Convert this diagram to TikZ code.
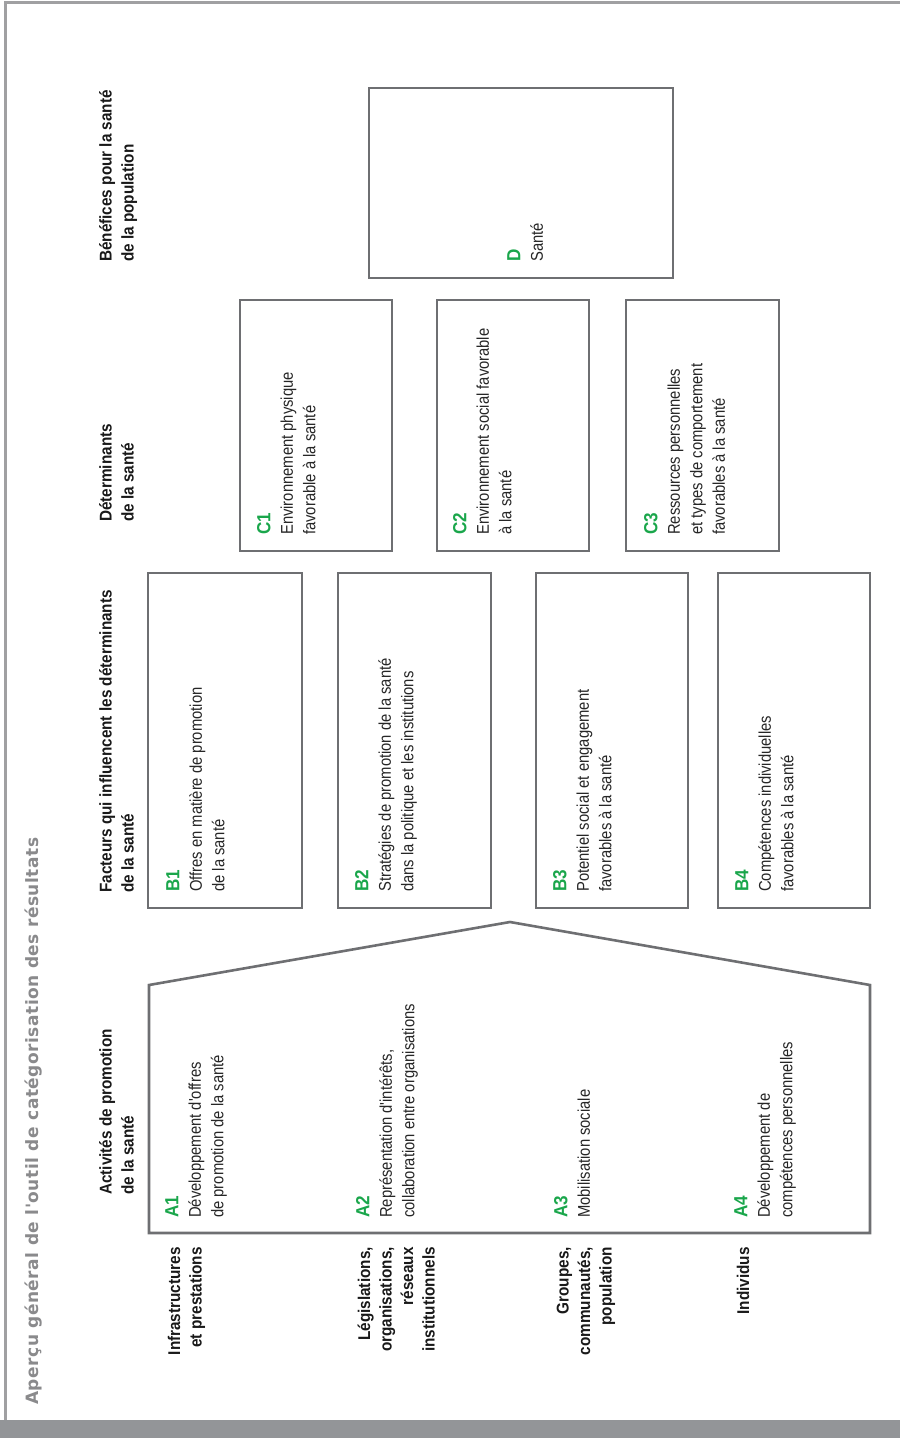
\documentclass[tikz,border=0pt]{standalone}
\usepackage{fontspec}
\setmainfont{Liberation Sans}
\newfontfamily\condf{Liberation Sans}[FakeStretch=0.87]
\newfontfamily\hdrf{Liberation Sans}[FakeStretch=0.9]
\newfontfamily\titlef{DejaVu Sans}[LetterSpace=3]
\definecolor{boxgray}{RGB}{110,111,114}
\definecolor{framegray}{RGB}{160,160,162}
\definecolor{bandgray}{RGB}{147,149,152}
\definecolor{titlegray}{RGB}{138,138,140}
\definecolor{taggreen}{RGB}{26,166,75}
\newcommand\tg[1]{{\color{taggreen}\hdrf\bfseries\fontsize{19}{19}\selectfont #1}}
\tikzset{
  box/.style={draw=boxgray, line width=2.6pt},
  desc/.style={rotate=90, anchor=north west, inner sep=0pt, align=left, text=black!85,
    font=\condf\fontsize{17}{22.5}\selectfont},
  hdr/.style={rotate=90, anchor=north west, inner sep=0pt, align=left, text=black!90,
    font=\hdrf\bfseries\fontsize{17}{22}\selectfont},
  rowl/.style={rotate=90, anchor=north east, inner sep=0pt, align=right, text=black!90,
    font=\hdrf\bfseries\fontsize{17}{21.5}\selectfont},
}
\begin{document}
\begin{tikzpicture}[x=1pt,y=-1pt]
\useasboundingbox (0,0) rectangle (900,1438);
% frame
\fill[bandgray] (0,1420) rectangle (900,1438);
\draw[framegray, line width=2.5pt] (5.5,1420) -- (5.5,2.5) -- (900,2.5);
% title
\node[rotate=90, anchor=base west, inner sep=0pt, text=titlegray,
  font=\titlef\bfseries\fontsize{17}{17}\selectfont] (title) at (38,1405)
  {Aperçu général de l'outil de catégorisation des résultats};
% column headers
\node[hdr] (hA) at (99,1195) {Activités de promotion\\de la santé};
\node[hdr] (hB) at (99,893) {Facteurs qui influencent les déterminants\\de la santé};
\node[hdr] (hC) at (99,522) {Déterminants\\de la santé};
\node[hdr] (hD) at (99,262) {Bénéfices pour la santé\\de la population};
% row labels
\node[rowl] (r1) at (167.5,1247) {Infrastructures\\et prestations};
\node[rowl] (r2) at (357.5,1247) {Législations,\\organisations,\\réseaux\\institutionnels};
\node[rowl] (r3) at (556.5,1247) {Groupes,\\communautés,\\population};
\node[rowl] (r4) at (736.5,1247) {Individus};
% A shape
\draw[box] (149,1233) -- (149,985) -- (510,922) -- (870,985) -- (870,1233) -- cycle;
\node[desc] (A1) at (165,1218) {\tg{A1}\\Développement d'offres\\de promotion de la santé};
\node[desc] (A2) at (356,1218) {\tg{A2}\\Représentation d'intérêts,\\collaboration entre organisations};
\node[desc] (A3) at (554,1218) {\tg{A3}\\Mobilisation sociale};
\node[desc] (A4) at (734,1218) {\tg{A4}\\Développement de\\compétences personnelles};
% B boxes
\draw[box] (148,573) rectangle (302,908);
\draw[box] (338,573) rectangle (491,908);
\draw[box] (536,573) rectangle (688,908);
\draw[box] (718,573) rectangle (870,908);
\node[desc] (B1) at (166,892) {\tg{B1}\\Offres en matière de promotion\\de la santé};
\node[desc] (B2) at (355,892) {\tg{B2}\\Stratégies de promotion de la santé\\dans la politique et les institutions};
\node[desc] (B3) at (553,892) {\tg{B3}\\Potentiel social et engagement\\favorables à la santé};
\node[desc] (B4) at (735,892) {\tg{B4}\\Compétences individuelles\\favorables à la santé};
% C boxes
\draw[box] (240,300) rectangle (392,551);
\draw[box] (437,300) rectangle (589,551);
\draw[box] (626,300) rectangle (779,551);
\node[desc] (C1) at (257,535) {\tg{C1}\\Environnement physique\\favorable à la santé};
\node[desc] (C2) at (453,535) {\tg{C2}\\Environnement social favorable\\à la santé};
\node[desc] (C3) at (644,535) {\tg{C3}\\Ressources personnelles\\et types de comportement\\favorables à la santé};
% D box
\draw[box] (369,88) rectangle (673,278);
\node[desc] (D) at (507,262) {\tg{D}\\Santé};
\end{tikzpicture}
\end{document}
